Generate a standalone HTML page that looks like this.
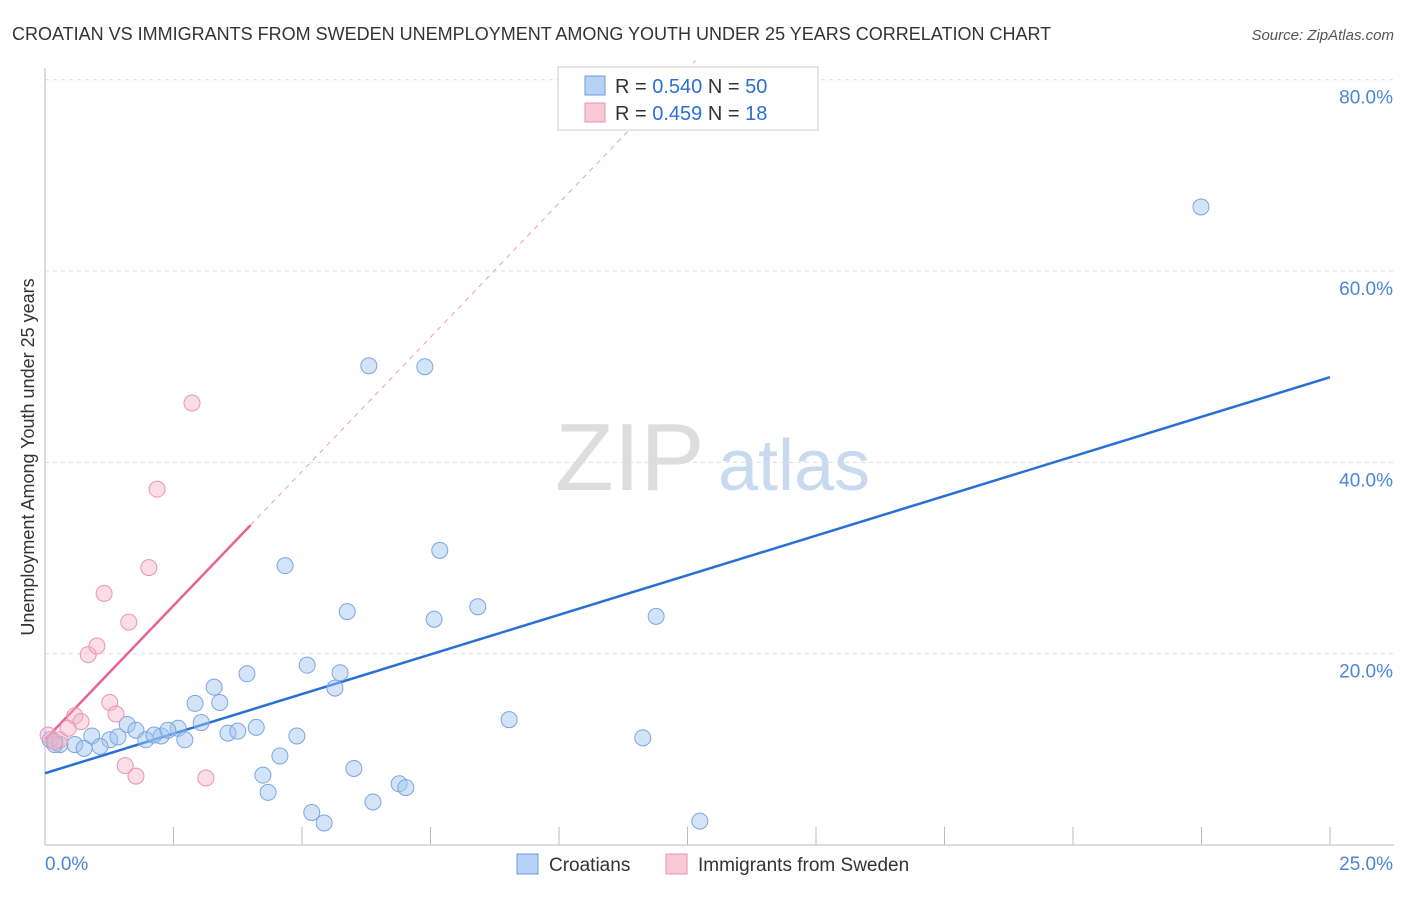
<!DOCTYPE html>
<html><head><meta charset="utf-8"><style>
body{margin:0;background:#fff;font-family:"Liberation Sans",sans-serif;}
svg text{font-family:"Liberation Sans",sans-serif;}
</style></head><body>
<svg id="chart" width="1406" height="892" xmlns="http://www.w3.org/2000/svg">
<text x="12" y="40" font-size="18" fill="#333">CROATIAN VS IMMIGRANTS FROM SWEDEN UNEMPLOYMENT AMONG YOUTH UNDER 25 YEARS CORRELATION CHART</text>
<text x="1394" y="40" font-size="15" fill="#555" font-style="italic" text-anchor="end">Source: ZipAtlas.com</text>
<text transform="translate(34,457) rotate(-90)" font-size="18" fill="#333" text-anchor="middle">Unemployment Among Youth under 25 years</text>
<g><text x="555" y="490" font-size="96" fill="#ddd" font-family="Liberation Serif">ZIP</text><text x="718" y="490" font-size="72" fill="#c8daf0">atlas</text></g>
<g id="grid"></g><g id="axes"></g><g id="lines"></g><g id="points"></g>
<g>
<rect x="558" y="67" width="260" height="63" fill="#fff" stroke="#ccc"/>
<rect x="585" y="76" width="20" height="19" fill="#b8d2f5" stroke="#6a9be0"/>
<text x="615" y="93" font-size="20" fill="#333">R = <tspan fill="#2b6fd6">0.540</tspan>   N = <tspan fill="#2b6fd6">50</tspan></text>
<rect x="585" y="103" width="20" height="19" fill="#f8c8d6" stroke="#e890aa"/>
<text x="615" y="120" font-size="20" fill="#333">R =  <tspan fill="#2b6fd6">0.459</tspan>   N =   <tspan fill="#2b6fd6">18</tspan></text>
</g>
<g>
<rect x="517" y="854" width="21" height="20" fill="#b8d2f5" stroke="#6a9be0"/>
<text x="549" y="871" font-size="19" fill="#333">Croatians</text>
<rect x="666" y="854" width="21" height="20" fill="#f8c8d6" stroke="#e890aa"/>
<text x="698" y="871" font-size="19" fill="#333">Immigrants from Sweden</text>
</g>
</svg>
<script>
const xTicks=[0,2.5,5,7.5,10,12.5,15,17.5,20,22.5,25];
const yTicks=[20,40,60,80];
const yTickLabels=["20.0%","40.0%","60.0%","80.0%"];
const croX=[22.49,6.30,7.39,7.68,4.67,5.88,8.42,7.57,11.89,5.10,5.74,3.93,3.29,5.64,2.92,3.40,9.03,11.63,1.60,1.77,2.26,2.59,3.04,2.39,0.91,1.26,1.42,1.96,2.12,2.72,3.56,3.75,4.11,4.90,0.58,0.29,1.07,0.76,0.10,0.19,4.24,4.57,6.01,4.34,6.89,7.02,6.38,5.19,5.43,12.74];
const croY=[66.7,50.1,50.0,30.8,29.2,24.4,24.9,23.6,23.9,18.8,18.0,17.9,16.5,16.4,14.8,14.9,13.1,11.2,12.6,12.0,11.4,12.2,12.8,12.0,11.4,11.0,11.3,11.0,11.5,11.0,11.7,11.9,12.3,11.4,10.5,10.5,10.3,10.1,11.0,10.5,7.3,9.3,8.0,5.5,6.4,6.0,4.5,3.4,2.3,2.5];
const sweX=[0.06,0.29,0.45,0.58,0.70,0.84,1.01,1.15,1.26,1.38,1.63,2.02,2.18,2.86,1.56,1.77,3.13,0.19];
const sweY=[11.5,11.0,12.2,13.5,12.9,19.9,20.8,26.3,14.9,13.7,23.3,29.0,37.2,46.2,8.3,7.2,7.0,10.8];
const croFit=[7.5,1.656]; // intercept, slope
const sweFit=[11.0,5.61];
const sx=v=>45+v*51.4, sy=v=>845-v*9.566;
const NS="http://www.w3.org/2000/svg";
function mk(t,a,p){const e=document.createElementNS(NS,t);for(const k in a)e.setAttribute(k,a[k]);p.appendChild(e);return e;}
const grid=document.getElementById('grid'),axes=document.getElementById('axes'),lines=document.getElementById('lines'),pts=document.getElementById('points');
yTicks.forEach((v,i)=>{
 const l=mk('line',{x1:45,x2:1394,y1:sy(v),y2:sy(v),stroke:'#ddd','stroke-dasharray':'4,4'},grid);
 
 
 const t=mk('text',{x:1393,y:sy(v)+24,'font-size':19,fill:'#4a86d8','text-anchor':'end'},axes);
 t.textContent=yTickLabels[i];
 
 
});
const ax=mk('line',{x1:45,x2:1394,y1:845,y2:845,stroke:'#bbb'},axes);


const ay=mk('line',{x1:45,x2:45,y1:68,y2:845,stroke:'#bbb'},axes);


xTicks.forEach(v=>{const l=mk('line',{x1:sx(v),x2:sx(v),y1:827,y2:845,stroke:'#bbb'},axes);
 
 });
const t0=mk('text',{x:45,y:870,'font-size':19,fill:'#4a86d8'},axes);t0.textContent='0.0%';


const t1=mk('text',{x:1393,y:870,'font-size':19,fill:'#4a86d8','text-anchor':'end'},axes);t1.textContent='25.0%';


croX.forEach((x,i)=>{const c=mk('circle',{cx:sx(x),cy:sy(croY[i]),r:8,fill:'rgba(160,195,240,0.45)',stroke:'#7aa6e2','stroke-width':1},pts);
 
 });
sweX.forEach((x,i)=>{const c=mk('circle',{cx:sx(x),cy:sy(sweY[i]),r:8,fill:'rgba(245,180,200,0.45)',stroke:'#e896b0','stroke-width':1},pts);
 
 });
const bl=mk('line',{x1:sx(0),y1:sy(croFit[0]),x2:sx(25),y2:sy(croFit[0]+25*croFit[1]),stroke:'#2a6fd6','stroke-width':2.5},lines);


const pl=mk('line',{x1:sx(0),y1:sy(sweFit[0]),x2:sx(4),y2:sy(sweFit[0]+4*sweFit[1]),stroke:'#e8638e','stroke-width':2.5},lines);


const xe=(82-sweFit[0])/sweFit[1];
const pd=mk('line',{x1:sx(4),y1:sy(sweFit[0]+4*sweFit[1]),x2:sx(xe),y2:sy(82),stroke:'#e8a0b8','stroke-width':1,'stroke-dasharray':'5,5'},lines);


</script>
</body></html>
